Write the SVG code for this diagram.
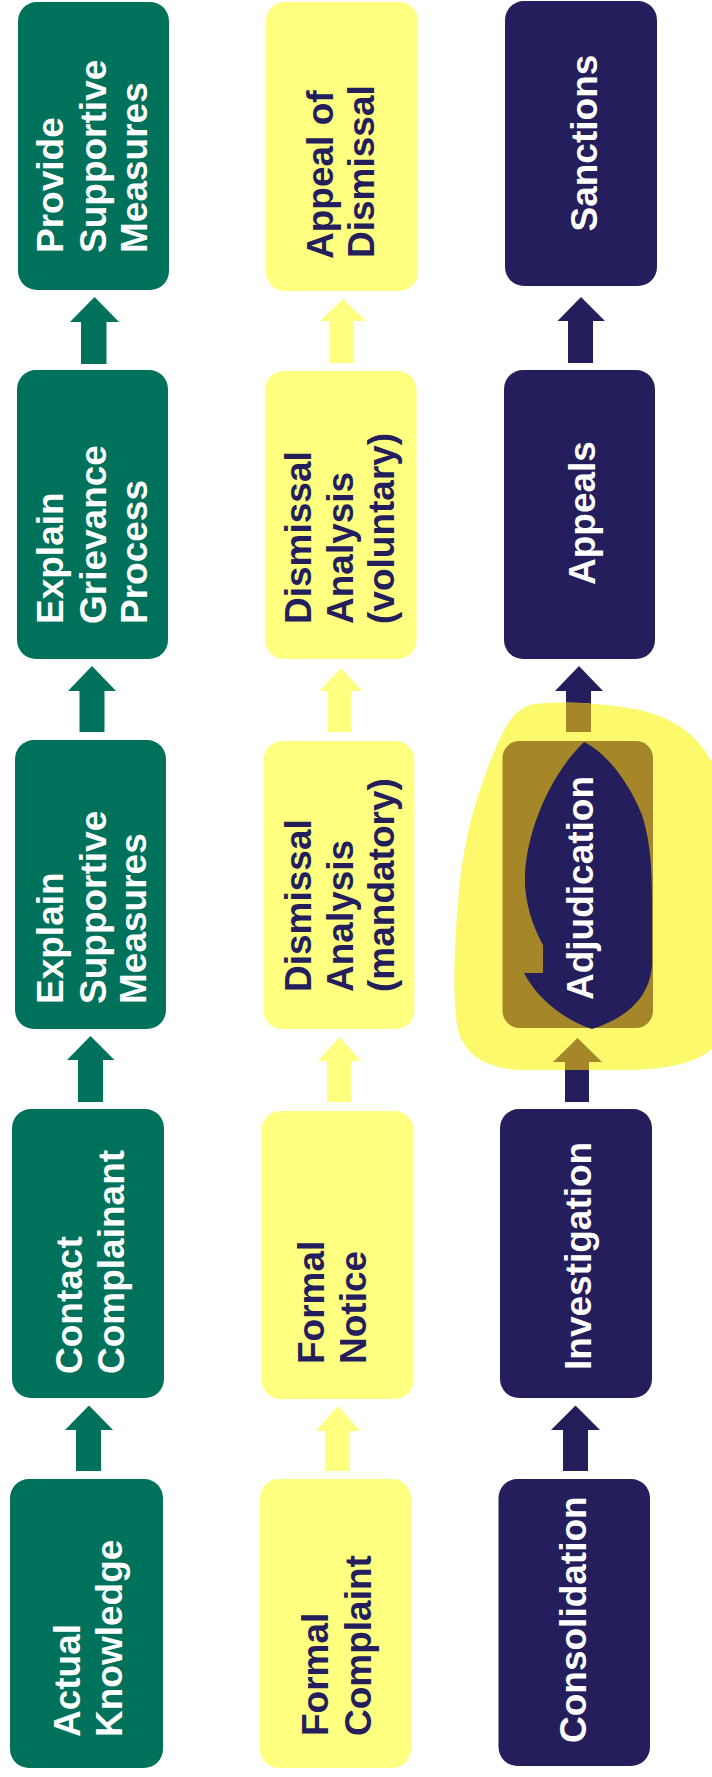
<svg xmlns="http://www.w3.org/2000/svg" width="712" height="1777" viewBox="0 0 712 1777">
<style>
.g{fill:#00715a}
.y{fill:#ffff80}
.n{fill:#241e5c}
.ol{fill:#a5872a}
text{font-family:"Liberation Sans",Arial,sans-serif;font-weight:bold;font-size:37px}
.tw{fill:#ffffff}
.tn{fill:#241e5c}
</style>
<defs>
<clipPath id="hl">
<path d="M530,705 C560,700 600,703 640,710 C680,720 705,740 720,780 L720,1040 C705,1060 680,1068 630,1070 L520,1070 C485,1068 465,1055 458,1030 C452,1000 454,940 460,880 C466,830 478,790 495,750 C505,725 515,710 530,705 Z"/>
</clipPath>
</defs>
<rect width="712" height="1777" fill="#ffffff"/>

<g id="connectors">
<polygon class="g" points="94.5,297 119,322 106.5,322 106.5,364 81,364 81,322 70,322"/>
<polygon class="g" points="92,666 116,691 104.5,691 104.5,732 79.5,732 79.5,691 68,691"/>
<polygon class="g" points="90.5,1036 114.5,1060 103,1060 103,1102 78,1102 78,1060 67,1060"/>
<polygon class="g" points="89,1405.5 113,1430 101,1430 101,1471 76,1471 76,1430 65,1430"/>
<polygon class="y" points="343,299 366,321 354,321 354,363 330,363 330,321 320,321"/>
<polygon class="y" points="341,668 362,691 351,691 351,732 328,732 328,691 319.5,691"/>
<polygon class="y" points="339.5,1037 361,1061 351,1061 351,1102 327,1102 327,1061 318,1061"/>
<polygon class="y" points="338,1406 360,1431 350,1431 350,1471 325,1471 325,1431 316,1431"/>
<polygon class="n" points="581,297 605,321 593,321 593,363 568,363 568,321 557.5,321"/>
<polygon class="n" points="579,666 603,691 591,691 591,732 566,732 566,691 555,691"/>
<polygon class="n" points="577.5,1038 602,1062 589,1062 589,1102 565,1102 565,1062 553,1062"/>
<polygon class="n" points="575.5,1405.5 600,1430 588,1430 588,1471 563,1471 563,1430 551,1430"/>
</g>

<g id="highlight">
<path fill="#fcf96c" d="M530,705 C560,700 600,703 640,710 C680,720 705,740 720,780 L720,1040 C705,1060 680,1068 630,1070 L520,1070 C485,1068 465,1055 458,1030 C452,1000 454,940 460,880 C466,830 478,790 495,750 C505,725 515,710 530,705 Z"/>
<g clip-path="url(#hl)">
<polygon class="ol" points="579,666 603,691 591,691 591,732 566,732 566,691 555,691"/>
<polygon class="ol" points="577.5,1038 602,1062 589,1062 589,1102 565,1102 565,1062 553,1062"/>
</g>
</g>

<g id="provide-supportive-measures">
<rect class="g" x="18" y="2" width="151" height="288" rx="19"/>
<g class="tw" transform="rotate(-90)">
<text x="-253" y="63">Provide</text>
<text x="-253" y="106">Supportive</text>
<text x="-253" y="147">Measures</text>
</g>
</g>
<g id="explain-grievance-process">
<rect class="g" x="17" y="370" width="151" height="289" rx="19"/>
<g class="tw" transform="rotate(-90)">
<text x="-624" y="63">Explain</text>
<text x="-624" y="106">Grievance</text>
<text x="-624" y="147">Process</text>
</g>
</g>
<g id="explain-supportive-measures">
<rect class="g" x="15" y="740" width="151" height="289" rx="19"/>
<g class="tw" transform="rotate(-90)">
<text x="-1004" y="63">Explain</text>
<text x="-1004" y="106">Supportive</text>
<text x="-1004" y="146">Measures</text>
</g>
</g>
<g id="contact-complainant">
<rect class="g" x="12" y="1109" width="152" height="289" rx="19"/>
<g class="tw" transform="rotate(-90)">
<text x="-1374" y="82">Contact</text>
<text x="-1374" y="124">Complainant</text>
</g>
</g>
<g id="actual-knowledge">
<rect class="g" x="10" y="1479" width="153" height="289" rx="19"/>
<g class="tw" transform="rotate(-90)">
<text x="-1737" y="80">Actual</text>
<text x="-1737" y="122">Knowledge</text>
</g>
</g>

<g id="appeal-of-dismissal">
<rect class="y" x="266" y="2" width="152" height="289" rx="19"/>
<g class="tn" transform="rotate(-90)">
<text x="-259" y="333">Appeal of</text>
<text x="-258" y="374">Dismissal</text>
</g>
</g>
<g id="dismissal-analysis-voluntary">
<rect class="y" x="265" y="371" width="151.5" height="288" rx="19"/>
<g class="tn" transform="rotate(-90)">
<text x="-624" y="311">Dismissal</text>
<text x="-624" y="353">Analysis</text>
<text x="-624" y="394">(voluntary)</text>
</g>
</g>
<g id="dismissal-analysis-mandatory">
<rect class="y" x="263.5" y="741" width="151" height="288" rx="19"/>
<g class="tn" transform="rotate(-90)">
<text x="-992" y="311">Dismissal</text>
<text x="-992" y="353">Analysis</text>
<text x="-992" y="394">(mandatory)</text>
</g>
</g>
<g id="formal-notice">
<rect class="y" x="261.5" y="1111" width="152" height="288" rx="19"/>
<g class="tn" transform="rotate(-90)">
<text x="-1364" y="324">Formal</text>
<text x="-1364" y="366">Notice</text>
</g>
</g>
<g id="formal-complaint">
<rect class="y" x="260" y="1479" width="151" height="289" rx="19"/>
<g class="tn" transform="rotate(-90)">
<text x="-1736" y="328">Formal</text>
<text x="-1736" y="371">Complaint</text>
</g>
</g>

<g id="sanctions">
<rect class="n" x="505" y="1" width="152" height="285" rx="19"/>
<text class="tw" transform="rotate(-90)" x="-231.5" y="597">Sanctions</text>
</g>
<g id="appeals">
<rect class="n" x="504" y="370" width="151" height="289" rx="19"/>
<text class="tw" transform="rotate(-90)" x="-585" y="595">Appeals</text>
</g>
<g id="adjudication">
<rect class="ol" x="502.5" y="741" width="150.5" height="287" rx="17"/>
<path class="n" d="M584,742 C605,752 628,780 642,815 C652,845 652,880 652,910 L652,965 C650,995 630,1017 592,1029 C565,1020 538,1000 524,973 L543,973 L543,945 C532,925 524,900 525,875 C527,830 550,775 584,742 Z"/>
<text class="tw" transform="rotate(-90)" x="-1000" y="593">Adjudication</text>
</g>
<g id="investigation">
<rect class="n" x="500" y="1109" width="152" height="289" rx="19"/>
<text class="tw" transform="rotate(-90)" x="-1370" y="591">Investigation</text>
</g>
<g id="consolidation">
<rect class="n" x="498.5" y="1479" width="151.5" height="287" rx="19"/>
<text class="tw" transform="rotate(-90)" x="-1743" y="586">Consolidation</text>
</g>
</svg>
